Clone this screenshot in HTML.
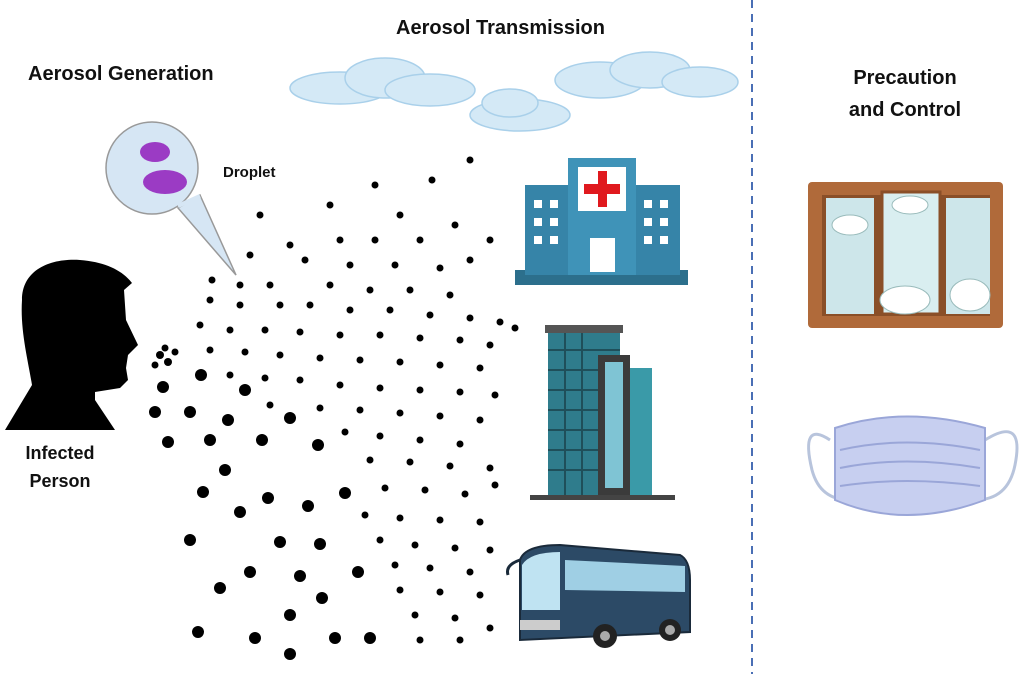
<!DOCTYPE html>
<html><head><meta charset="utf-8"><style>
html,body{margin:0;padding:0;background:#fff}
svg{display:block}
text{font-family:"Liberation Sans",sans-serif;font-weight:bold;fill:#111}
</style></head><body>
<svg width="1024" height="674" viewBox="0 0 1024 674" xmlns="http://www.w3.org/2000/svg">
<rect width="1024" height="674" fill="#fff"/>
<line x1="752" y1="0" x2="752" y2="674" stroke="#4a6fb5" stroke-width="2" stroke-dasharray="8,6"/>
<text x="28" y="80" font-size="20">Aerosol Generation</text>
<text x="396" y="34" font-size="20">Aerosol Transmission</text>
<text x="905" y="84" font-size="20" text-anchor="middle">Precaution</text>
<text x="905" y="116" font-size="20" text-anchor="middle">and Control</text>
<text x="60" y="459" font-size="18" text-anchor="middle">Infected</text>
<text x="60" y="487" font-size="18" text-anchor="middle">Person</text>
<text x="223" y="177" font-size="15">Droplet</text>
<g fill="#d4e9f6" stroke="#a9d0ea" stroke-width="1.5">
<ellipse cx="340" cy="88" rx="50" ry="16"/><ellipse cx="385" cy="78" rx="40" ry="20"/><ellipse cx="430" cy="90" rx="45" ry="16"/>
<ellipse cx="520" cy="115" rx="50" ry="16"/><ellipse cx="510" cy="103" rx="28" ry="14"/>
<ellipse cx="600" cy="80" rx="45" ry="18"/><ellipse cx="650" cy="70" rx="40" ry="18"/><ellipse cx="700" cy="82" rx="38" ry="15"/>
</g>
<path d="M200 195 L236 275 L178 208 Z" fill="#d6e6f4" stroke="#999" stroke-width="1.5"/>
<circle cx="152" cy="168" r="46" fill="#d6e6f4" stroke="#999" stroke-width="1.5"/>
<path d="M178 206 L200 196" stroke="#d6e6f4" stroke-width="4"/>
<g fill="#9b3bc4"><ellipse cx="155" cy="152" rx="15" ry="10"/><ellipse cx="165" cy="182" rx="22" ry="12"/></g>
<path d="M22 300 C22 270 50 258 80 260 C105 262 122 270 132 283 L124 290 L126 320 L138 345 L128 355 L126 368 L128 380 L120 388 L95 392 L95 400 L115 430 L5 430 L32 385 C28 360 20 330 22 300 Z" fill="#000"/>
<g fill="#000">
<circle cx="163" cy="387" r="6"/><circle cx="201" cy="375" r="6"/><circle cx="245" cy="390" r="6"/><circle cx="155" cy="412" r="6"/><circle cx="190" cy="412" r="6"/><circle cx="228" cy="420" r="6"/><circle cx="290" cy="418" r="6"/><circle cx="168" cy="442" r="6"/><circle cx="210" cy="440" r="6"/><circle cx="262" cy="440" r="6"/><circle cx="318" cy="445" r="6"/><circle cx="225" cy="470" r="6"/><circle cx="203" cy="492" r="6"/><circle cx="268" cy="498" r="6"/><circle cx="240" cy="512" r="6"/><circle cx="345" cy="493" r="6"/><circle cx="308" cy="506" r="6"/><circle cx="190" cy="540" r="6"/><circle cx="280" cy="542" r="6"/><circle cx="320" cy="544" r="6"/><circle cx="250" cy="572" r="6"/><circle cx="300" cy="576" r="6"/><circle cx="358" cy="572" r="6"/><circle cx="220" cy="588" r="6"/><circle cx="322" cy="598" r="6"/><circle cx="290" cy="615" r="6"/><circle cx="198" cy="632" r="6"/><circle cx="255" cy="638" r="6"/><circle cx="335" cy="638" r="6"/><circle cx="370" cy="638" r="6"/><circle cx="290" cy="654" r="6"/>
</g>
<g fill="#000">
<circle cx="160" cy="355" r="4"/><circle cx="168" cy="362" r="4"/><circle cx="155" cy="365" r="3.5"/><circle cx="165" cy="348" r="3.5"/><circle cx="175" cy="352" r="3.5"/>
<circle cx="470" cy="160" r="3.5"/><circle cx="432" cy="180" r="3.5"/><circle cx="375" cy="185" r="3.5"/><circle cx="330" cy="205" r="3.5"/><circle cx="400" cy="215" r="3.5"/><circle cx="455" cy="225" r="3.5"/><circle cx="260" cy="215" r="3.5"/><circle cx="290" cy="245" r="3.5"/><circle cx="340" cy="240" r="3.5"/><circle cx="375" cy="240" r="3.5"/><circle cx="420" cy="240" r="3.5"/><circle cx="490" cy="240" r="3.5"/><circle cx="250" cy="255" r="3.5"/><circle cx="305" cy="260" r="3.5"/><circle cx="350" cy="265" r="3.5"/><circle cx="395" cy="265" r="3.5"/><circle cx="440" cy="268" r="3.5"/><circle cx="470" cy="260" r="3.5"/><circle cx="212" cy="280" r="3.5"/><circle cx="240" cy="285" r="3.5"/><circle cx="270" cy="285" r="3.5"/><circle cx="330" cy="285" r="3.5"/><circle cx="370" cy="290" r="3.5"/><circle cx="410" cy="290" r="3.5"/><circle cx="450" cy="295" r="3.5"/><circle cx="210" cy="300" r="3.5"/><circle cx="240" cy="305" r="3.5"/><circle cx="280" cy="305" r="3.5"/><circle cx="310" cy="305" r="3.5"/><circle cx="350" cy="310" r="3.5"/><circle cx="390" cy="310" r="3.5"/><circle cx="430" cy="315" r="3.5"/><circle cx="470" cy="318" r="3.5"/><circle cx="500" cy="322" r="3.5"/><circle cx="515" cy="328" r="3.5"/><circle cx="200" cy="325" r="3.5"/><circle cx="230" cy="330" r="3.5"/><circle cx="265" cy="330" r="3.5"/><circle cx="300" cy="332" r="3.5"/><circle cx="340" cy="335" r="3.5"/><circle cx="380" cy="335" r="3.5"/><circle cx="420" cy="338" r="3.5"/><circle cx="460" cy="340" r="3.5"/><circle cx="490" cy="345" r="3.5"/><circle cx="210" cy="350" r="3.5"/><circle cx="245" cy="352" r="3.5"/><circle cx="280" cy="355" r="3.5"/><circle cx="320" cy="358" r="3.5"/><circle cx="360" cy="360" r="3.5"/><circle cx="400" cy="362" r="3.5"/><circle cx="440" cy="365" r="3.5"/><circle cx="480" cy="368" r="3.5"/><circle cx="230" cy="375" r="3.5"/><circle cx="265" cy="378" r="3.5"/><circle cx="300" cy="380" r="3.5"/><circle cx="340" cy="385" r="3.5"/><circle cx="380" cy="388" r="3.5"/><circle cx="420" cy="390" r="3.5"/><circle cx="460" cy="392" r="3.5"/><circle cx="495" cy="395" r="3.5"/><circle cx="270" cy="405" r="3.5"/><circle cx="320" cy="408" r="3.5"/><circle cx="360" cy="410" r="3.5"/><circle cx="400" cy="413" r="3.5"/><circle cx="440" cy="416" r="3.5"/><circle cx="480" cy="420" r="3.5"/><circle cx="345" cy="432" r="3.5"/><circle cx="380" cy="436" r="3.5"/><circle cx="420" cy="440" r="3.5"/><circle cx="460" cy="444" r="3.5"/><circle cx="370" cy="460" r="3.5"/><circle cx="410" cy="462" r="3.5"/><circle cx="450" cy="466" r="3.5"/><circle cx="490" cy="468" r="3.5"/><circle cx="385" cy="488" r="3.5"/><circle cx="425" cy="490" r="3.5"/><circle cx="465" cy="494" r="3.5"/><circle cx="495" cy="485" r="3.5"/><circle cx="365" cy="515" r="3.5"/><circle cx="400" cy="518" r="3.5"/><circle cx="440" cy="520" r="3.5"/><circle cx="480" cy="522" r="3.5"/><circle cx="380" cy="540" r="3.5"/><circle cx="415" cy="545" r="3.5"/><circle cx="455" cy="548" r="3.5"/><circle cx="490" cy="550" r="3.5"/><circle cx="395" cy="565" r="3.5"/><circle cx="430" cy="568" r="3.5"/><circle cx="470" cy="572" r="3.5"/><circle cx="400" cy="590" r="3.5"/><circle cx="440" cy="592" r="3.5"/><circle cx="480" cy="595" r="3.5"/><circle cx="415" cy="615" r="3.5"/><circle cx="455" cy="618" r="3.5"/><circle cx="420" cy="640" r="3.5"/><circle cx="460" cy="640" r="3.5"/><circle cx="490" cy="628" r="3.5"/>
</g>
<g>
<rect x="515" y="270" width="173" height="15" fill="#2c6f8c"/>
<rect x="525" y="185" width="48" height="90" fill="#3684a8"/>
<rect x="632" y="185" width="48" height="90" fill="#3684a8"/>
<rect x="568" y="158" width="68" height="117" fill="#3f93b8"/>
<rect x="578" y="167" width="48" height="44" fill="#fff"/>
<rect x="598" y="171" width="9" height="36" fill="#e0191e"/><rect x="584" y="184" width="36" height="10" fill="#e0191e"/>
<rect x="590" y="238" width="25" height="34" fill="#fff"/>
<g fill="#fff">
<rect x="534" y="200" width="8" height="8"/><rect x="550" y="200" width="8" height="8"/><rect x="534" y="218" width="8" height="8"/><rect x="550" y="218" width="8" height="8"/><rect x="534" y="236" width="8" height="8"/><rect x="550" y="236" width="8" height="8"/>
<rect x="644" y="200" width="8" height="8"/><rect x="660" y="200" width="8" height="8"/><rect x="644" y="218" width="8" height="8"/><rect x="660" y="218" width="8" height="8"/><rect x="644" y="236" width="8" height="8"/><rect x="660" y="236" width="8" height="8"/>
</g>
</g>
<g>
<rect x="545" y="325" width="78" height="8" fill="#555"/>
<rect x="548" y="333" width="72" height="162" fill="#2f7c8c"/>
<g stroke="#1f4f5a" stroke-width="2">
<line x1="548" y1="350" x2="620" y2="350"/><line x1="548" y1="370" x2="620" y2="370"/><line x1="548" y1="390" x2="620" y2="390"/><line x1="548" y1="410" x2="620" y2="410"/><line x1="548" y1="430" x2="620" y2="430"/><line x1="548" y1="450" x2="620" y2="450"/><line x1="548" y1="470" x2="620" y2="470"/>
<line x1="565" y1="333" x2="565" y2="495"/><line x1="582" y1="333" x2="582" y2="495"/>
</g>
<rect x="598" y="355" width="32" height="140" fill="#3b3b3b"/>
<rect x="605" y="362" width="18" height="126" fill="#7fc4d4"/>
<rect x="630" y="368" width="22" height="127" fill="#3a9aa8"/>
<rect x="530" y="495" width="145" height="5" fill="#444"/>
</g>
<g>
<path d="M520 560 Q525 545 560 545 L680 555 Q690 560 690 580 L690 632 L520 640 Z" fill="#2c4a66" stroke="#1a2a3a" stroke-width="2"/>
<path d="M522 565 Q530 552 560 552 L560 610 L522 610 Z" fill="#bfe3f2"/>
<path d="M565 560 L685 566 L685 592 L565 590 Z" fill="#9fcfe4"/>
<path d="M508 575 Q505 565 520 560" stroke="#1a2a3a" stroke-width="3" fill="none"/>
<rect x="520" y="620" width="40" height="10" fill="#ccc"/>
<circle cx="605" cy="636" r="12" fill="#222"/><circle cx="605" cy="636" r="5" fill="#aaa"/>
<circle cx="670" cy="630" r="11" fill="#222"/><circle cx="670" cy="630" r="5" fill="#aaa"/>
</g>
<g>
<rect x="808" y="182" width="195" height="146" rx="4" fill="#b06a3a"/>
<rect x="822" y="195" width="168" height="121" fill="#8a4f28"/>
<rect x="826" y="198" width="48" height="116" fill="#cde6ea"/>
<rect x="882" y="192" width="58" height="122" fill="#d9eef0" stroke="#8a4f28" stroke-width="3"/>
<rect x="946" y="198" width="44" height="116" fill="#cde6ea"/>
<g fill="#fff" stroke="#9bb" stroke-width="1"><ellipse cx="850" cy="225" rx="18" ry="10"/><ellipse cx="905" cy="300" rx="25" ry="14"/><ellipse cx="970" cy="295" rx="20" ry="16"/><ellipse cx="910" cy="205" rx="18" ry="9"/></g>
</g>
<g>
<path d="M830 440 Q800 420 812 470 Q820 500 850 500" stroke="#b8c4dc" stroke-width="3" fill="none"/>
<path d="M985 440 Q1025 415 1015 465 Q1008 500 975 500" stroke="#b8c4dc" stroke-width="3" fill="none"/>
<path d="M835 428 Q905 405 985 428 L985 500 Q905 530 835 500 Z" fill="#c7cff0" stroke="#9aa6d8" stroke-width="2"/>
<g stroke="#9aa6d8" stroke-width="2" fill="none"><path d="M840 450 Q905 435 980 450"/><path d="M840 468 Q905 455 980 468"/><path d="M840 486 Q905 476 980 486"/></g>
</g>
</svg>
</body></html>
